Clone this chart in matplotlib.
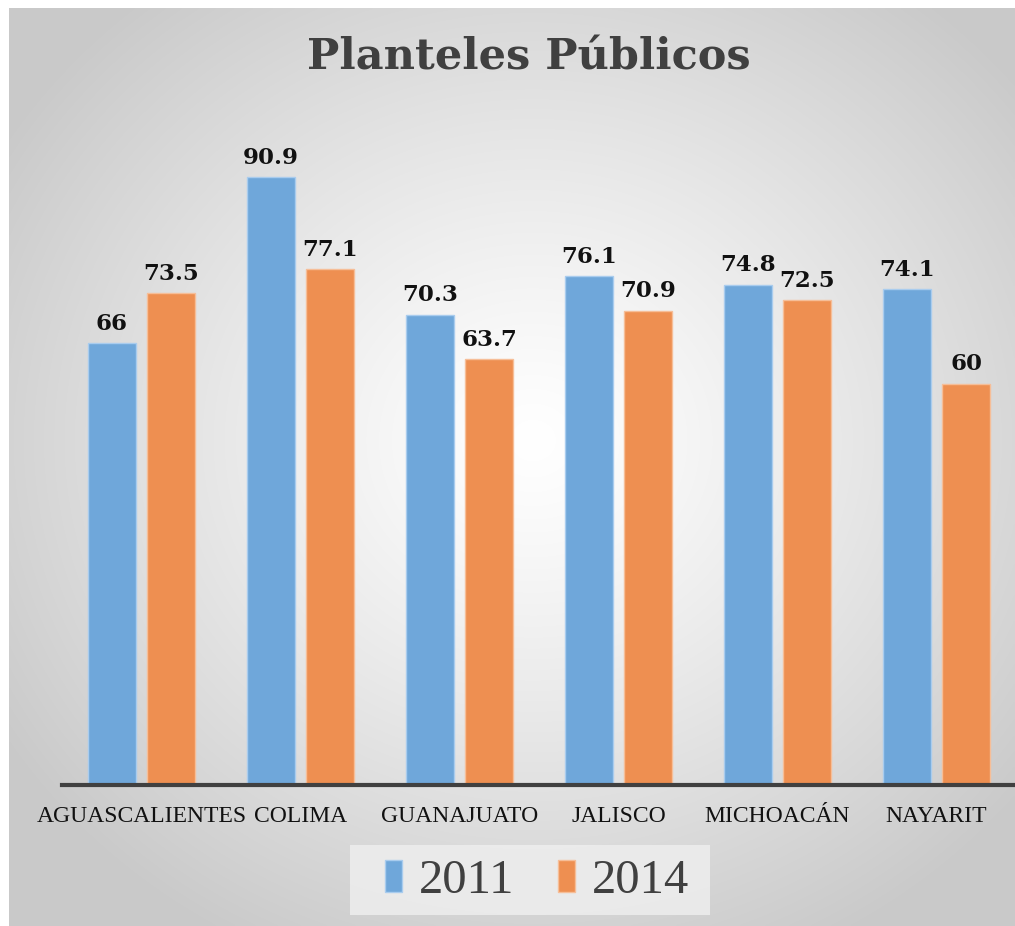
import numpy as np
import matplotlib
matplotlib.use("Agg")
import matplotlib.pyplot as plt
from matplotlib.patches import Rectangle

categories = ["AGUASCALIENTES", "COLIMA", "GUANAJUATO", "JALISCO", "MICHOACÁN", "NAYARIT"]
series_names = ["2011", "2014"]
values_2011 = [66, 90.9, 70.3, 76.1, 74.8, 74.1]
values_2014 = [73.5, 77.1, 63.7, 70.9, 72.5, 60]
label_2011 = ["66", "90.9", "70.3", "76.1", "74.8", "74.1"]
label_2014 = ["73.5", "77.1", "63.7", "70.9", "72.5", "60"]

W, H = 1015, 926
fig = plt.figure(figsize=(W / 100, H / 100), dpi=100)
fig.patch.set_facecolor("white")

# background radial gradient panel
bg = fig.add_axes([9 / W, 0, 1 - 9 / W, 1 - 8 / H])
bg.set_axis_off()
ny, nx = 400, 440
yy, xx = np.mgrid[0:ny, 0:nx]
cx, cy = nx * 0.52, ny * 0.47
r = np.sqrt(((xx - cx) / (nx * 0.62)) ** 2 + ((yy - cy) / (ny * 0.62)) ** 2)
r = np.clip(r, 0, 1)
val = 1.0 - 0.21 * r ** 1.2
img = np.dstack([val, val, val])
bg.imshow(img, extent=[0, 1, 0, 1], aspect="auto", interpolation="bilinear")
bg.set_xlim(0, 1)
bg.set_ylim(0, 1)

# legend background box
fig.patches.append(Rectangle((350 / W, 1 - 915 / H), 360 / W, 70 / H, transform=fig.transFigure,
                             facecolor="#EEEEEE", edgecolor="none", alpha=0.85, zorder=0.5))

# main axes
left_px, right_px = 62, 1016
top_px, base_px = 116, 785
ax = fig.add_axes([left_px / W, 1 - base_px / H, (right_px - left_px) / W, (base_px - top_px) / H])
ax.patch.set_alpha(0)
x = np.arange(len(categories))
bw = 0.30
off = 0.187
c_blue = "#6FA7DA"
c_orange = "#EE8F51"
b1 = ax.bar(x - off, values_2011, bw, color=c_blue, edgecolor="#A9CCEE", linewidth=1.0, label=series_names[0], zorder=2)
b2 = ax.bar(x + off, values_2014, bw, color=c_orange, edgecolor="#F6BE98", linewidth=1.0, label=series_names[1], zorder=2)
ax.set_xlim(-0.5, len(categories) - 0.5)
ax.set_ylim(0, 100)
for s in ["top", "right", "left"]:
    ax.spines[s].set_visible(False)
ax.spines["bottom"].set_color("#404040")
ax.spines["bottom"].set_linewidth(3)
ax.set_yticks([])
ax.set_xticks(x)
ax.set_xticklabels(categories, fontfamily="Liberation Serif", fontsize=17, color="#111111")
ax.tick_params(axis="x", length=0, pad=15)

for rects, labs in ((b1, label_2011), (b2, label_2014)):
    for rect, lab in zip(rects, labs):
        ax.annotate(lab, (rect.get_x() + rect.get_width() / 2, rect.get_height()),
                    xytext=(0, 6), textcoords="offset points", ha="center", va="bottom",
                    fontfamily="DejaVu Serif", fontweight="bold", fontsize=16.5, color="#111111")

fig.text(529 / W, 1 - 58 / H, "Planteles Públicos", ha="center", va="center",
         fontfamily="DejaVu Serif", fontweight="bold", fontsize=31, color="#404040")

leg = fig.legend(handles=[b1, b2], labels=series_names, loc="center",
                 bbox_to_anchor=(537 / W, 1 - 881 / H), ncol=2, frameon=False,
                 prop={"family": "Liberation Serif", "size": 35},
                 handlelength=0.35, handleheight=0.65, handletextpad=0.35, columnspacing=0.9,
                 borderpad=0.3, borderaxespad=0)
for t in leg.get_texts():
    t.set_color("#404040")

fig.savefig("out.png", dpi=100)
